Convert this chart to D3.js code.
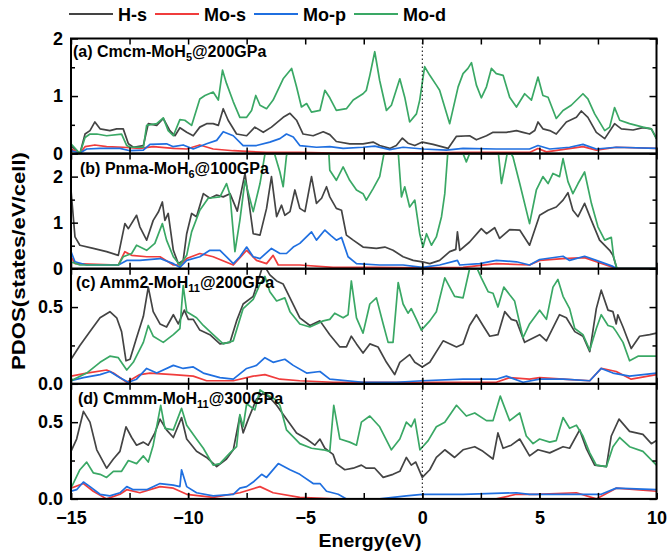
<!DOCTYPE html>
<html><head><meta charset="utf-8">
<script src="https://cdn.jsdelivr.net/npm/d3@7"></script>
<style>
body{margin:0;background:#fff;}
text{font-family:"Liberation Sans",Arial,sans-serif;font-weight:bold;}
</style></head>
<body><svg id="c" width="670" height="559"></svg>
<script>
// ---------- data (energy eV, PDOS states/eV/cell) ----------
const seriesNames = ["H-s","Mo-s","Mo-p","Mo-d"];
const energyTicks = [-15,-10,-5,0,5,10];
const panelNames = ["(a) Cmcm-MoH","(b) Pnma-MoH","(c) Amm2-MoH","(d) Cmmm-MoH"];
const panelSubs = ["5","6","11","11"];
const panelTails = ["@200GPa","@100GPa","@200GPa","@300GPa"];
const panelYMax = [2,2.5,0.75,0.75];
const panelMajor = [[0,1,2],[0,1,2],[0,0.5],[0,0.5]];
const panelMinor = [[0.5,1.5],[0.5,1.5],[0.25],[0.25]];
const panelTickLabels = [["0","1","2"],["0","1","2"],["0.0","0.5"],["0.0","0.5"]];

const aHs = [[-15,0.14],[-14.62,0],[-14.4,0.34],[-14.19,0.40],[-13.98,0.55],[-13.76,0.43],[-13.34,0.40],[-13.05,0.43],[-12.77,0.43],[-12.55,0.17],[-12.34,0.11],[-11.91,0.14],[-11.7,0.52],[-11.34,0.49],[-11.06,0.61],[-10.78,0.40],[-10.56,0.31],[-10.35,0.45],[-10.06,0.37],[-9.78,0.31],[-9.5,0.46],[-9.21,0.52],[-8.93,0.52],[-8.71,0.49],[-8.5,0.78],[-8.29,0.58],[-7.93,0.34],[-7.5,0.31],[-7.15,0.46],[-6.79,0.37],[-6.44,0.46],[-5.94,0.63],[-5.65,0.70],[-5.37,0.58],[-5.09,0.34],[-4.66,0.31],[-4.23,0.38],[-3.95,0.33],[-3.67,0.21],[-3.1,0.17],[-2.53,0.17],[-2.1,0.20],[-1.82,0.14],[-1.39,0.09],[-1.11,0.14],[-0.85,0.27],[-0.61,0.18],[-0.32,0.14],[0,0.20],[0.46,0.16],[1.1,0.09],[1.46,0.30],[2.02,0.31],[2.31,0.24],[2.74,0.31],[3.02,0.37],[3.59,0.37],[4.02,0.40],[4.3,0.37],[4.58,0.34],[4.8,0.40],[4.94,0.55],[5.15,0.43],[5.44,0.40],[5.72,0.34],[6.15,0.55],[6.58,0.63],[6.79,0.74],[7.07,0.63],[7.43,0.37],[7.79,0.26],[8.21,0.52],[8.5,0.43],[9.0,0.41],[9.42,0.45],[9.78,0.43],[10,0.26]];
const aMos = [[-15,0.08],[-14.62,0.01],[-14.4,0.12],[-13.98,0.15],[-13.48,0.12],[-12.77,0.11],[-12.06,0.09],[-11.49,0.12],[-10.63,0.09],[-10.06,0.08],[-9.5,0.15],[-8.93,0.08],[-8.07,0.05],[-6.65,0.02],[-5.23,0.02],[-3.81,0.01],[-2,0.01],[0,0.015],[2,0.02],[4.58,0.02],[4.94,0.09],[5.3,0.03],[6.86,0.12],[7.43,0.06],[8.28,0.11],[10,0.09]];
const aMop = [[-15,0.05],[-14.62,0.01],[-14.33,0.08],[-13.76,0.09],[-12.91,0.09],[-12.48,0.05],[-11.91,0.06],[-11.63,0.16],[-10.92,0.17],[-10.63,0.12],[-10.21,0.15],[-9.78,0.08],[-9.21,0.17],[-8.78,0.23],[-8.5,0.38],[-8.07,0.31],[-7.65,0.14],[-7.08,0.14],[-6.51,0.20],[-6.08,0.26],[-5.8,0.34],[-5.51,0.29],[-5.23,0.14],[-4.52,0.11],[-3.95,0.12],[-3.38,0.09],[-2.53,0.11],[-2.03,0.13],[-1.39,0.07],[-0.82,0.11],[0.03,0.08],[1.03,0.06],[1.74,0.09],[3.16,0.08],[4.58,0.08],[4.94,0.14],[5.44,0.08],[6.29,0.11],[6.86,0.16],[7.43,0.08],[8.28,0.11],[10,0.09]];
const aMod = [[-15,0.17],[-14.62,0],[-14.4,0.28],[-14.19,0.34],[-13.9,0.34],[-13.48,0.31],[-12.84,0.34],[-12.62,0.14],[-12.48,0.11],[-11.91,0.11],[-11.77,0.49],[-11.34,0.52],[-11.06,0.62],[-10.85,0.40],[-10.63,0.31],[-10.35,0.59],[-10.14,0.58],[-9.85,0.49],[-9.5,0.95],[-9.28,1.01],[-8.93,1.07],[-8.71,0.93],[-8.53,1.45],[-8.36,1.22],[-8.07,0.90],[-7.79,0.63],[-7.5,0.63],[-7.29,0.75],[-7.11,1.01],[-6.93,0.84],[-6.65,0.78],[-6.37,0.93],[-5.94,1.30],[-5.58,1.48],[-5.37,1.16],[-5.16,0.81],[-4.94,0.87],[-4.73,0.72],[-4.37,0.75],[-4.16,1.10],[-3.95,0.97],[-3.67,0.75],[-3.24,0.78],[-2.95,0.93],[-2.53,1.04],[-2.39,1.10],[-2.24,1.36],[-2.03,1.77],[-1.82,1.27],[-1.53,0.75],[-1.32,0.84],[-0.96,1.30],[-0.75,0.98],[-0.54,0.55],[-0.25,0.69],[-0.11,0.93],[0.1,1.51],[0.32,1.36],[0.6,1.19],[0.74,1.10],[1.17,0.52],[1.53,1.16],[1.74,1.39],[1.95,1.48],[2.1,1.58],[2.31,1.19],[2.52,0.97],[2.74,1.16],[2.95,1.48],[3.16,1.39],[3.45,1.36],[3.73,0.98],[4.02,0.81],[4.37,1.04],[4.66,0.93],[4.94,1.33],[5.15,1.01],[5.37,0.98],[5.72,0.61],[6.01,0.75],[6.36,0.84],[6.86,1.04],[7.07,0.95],[7.36,0.69],[7.79,0.40],[8.0,0.46],[8.21,0.80],[8.43,0.58],[8.85,0.52],[9.42,0.46],[9.78,0.43],[10,0.26]];

const bHs = [[-15,1.71],[-14.83,0.69],[-14.62,0.51],[-14.05,0.44],[-13.48,0.37],[-12.98,0.29],[-12.7,0.98],[-12.55,0.87],[-12.2,1.16],[-12.06,0.91],[-11.77,0.62],[-11.49,1.05],[-11.27,1.23],[-11.1,1.45],[-10.99,1.05],[-10.85,1.20],[-10.63,0.40],[-10.42,0.11],[-10.21,0.18],[-10.06,0.76],[-9.85,1.20],[-9.64,1.13],[-9.35,1.63],[-9.07,1.53],[-8.78,1.60],[-8.5,1.56],[-8.21,1.63],[-7.9,1.25],[-7.57,2.07],[-7.22,0.76],[-6.93,0.73],[-6.65,1.31],[-6.44,2.0],[-6.22,1.13],[-6.01,1.38],[-5.87,1.16],[-5.65,1.24],[-5.44,1.71],[-5.23,1.31],[-5.01,1.24],[-4.73,2.0],[-4.52,1.42],[-4.3,1.53],[-4.09,1.78],[-3.95,1.56],[-3.67,1.31],[-3.45,1.27],[-3.24,0.73],[-2.95,0.62],[-2.53,0.47],[-1.96,0.44],[-1.6,0.47],[-1.25,0.40],[-0.82,0.26],[-0.39,0.18],[0,0.15],[0.32,0.11],[0.74,0.18],[1.17,0.37],[1.43,0.42],[1.5,0.80],[1.6,0.40],[2.02,0.58],[2.52,0.87],[2.74,0.76],[3.09,0.89],[3.3,0.66],[3.73,0.85],[4.16,0.84],[4.58,0.51],[5.01,1.16],[5.37,1.27],[5.72,1.34],[6.01,1.49],[6.22,1.65],[6.43,1.27],[6.65,1.13],[6.93,1.42],[7.22,1.05],[7.57,0.62],[8.0,0.40],[8.14,0.29],[8.31,0.0],[10,0]];
const bMos = [[-15,0.26],[-14.83,0.11],[-12.98,0.08],[-12.7,0.37],[-12.41,0.29],[-11.77,0.26],[-11.2,0.26],[-10.63,0.08],[-10.35,0.08],[-10.06,0.22],[-9.5,0.33],[-8.93,0.26],[-8.07,0.08],[-7.5,0.40],[-7.08,0.18],[-6.65,0.11],[-6.37,0.29],[-6.15,0.08],[-5.23,0.08],[-3.81,0.03],[-2,0.03],[0,0.02],[1.74,0.03],[3.16,0.11],[4.58,0.08],[5.01,0.18],[6.01,0.22],[6.93,0.24],[7.43,0.15],[8.31,0],[10,0]];
const bMop = [[-15,0.37],[-14.83,0.15],[-14.33,0.08],[-12.98,0.08],[-12.62,0.18],[-12.06,0.18],[-11.2,0.22],[-10.63,0.11],[-10.35,0.03],[-10.06,0.18],[-9.5,0.26],[-9.07,0.40],[-8.64,0.40],[-8.07,0.11],[-7.79,0.26],[-7.5,0.47],[-7.22,0.26],[-6.93,0.22],[-6.44,0.44],[-6.08,0.33],[-5.8,0.33],[-5.51,0.47],[-5.23,0.55],[-4.73,0.80],[-4.52,0.62],[-4.16,0.84],[-3.9,0.72],[-3.67,0.62],[-3.45,0.68],[-3.17,0.26],[-2.81,0.11],[-1.82,0.08],[-0.82,0.08],[0,0.03],[0.74,0.08],[1.5,0.18],[1.6,0.08],[2.45,0.11],[3.16,0.18],[4.02,0.15],[4.58,0.08],[5.01,0.20],[6.01,0.27],[6.29,0.18],[6.93,0.27],[7.43,0.18],[8.14,0.05],[8.31,0],[10,0]];
const bMod = [[-15,0.15],[-14.62,0.08],[-13.76,0.08],[-12.98,0.08],[-12.77,0.26],[-12.41,0.33],[-12.2,0.51],[-11.77,0.40],[-11.42,0.55],[-11.1,0.98],[-10.92,0.62],[-10.63,0.26],[-10.35,0.08],[-10.06,0.29],[-9.85,0.80],[-9.5,1.27],[-9.14,1.53],[-8.64,1.56],[-8.36,1.85],[-8.21,1.60],[-8.0,0.37],[-7.79,1.05],[-7.57,1.92],[-7.22,1.24],[-6.93,1.85],[-6.65,2.7],[-6.37,2.6],[-6.08,2.1],[-5.94,1.78],[-5.8,2.45],[-5.58,2.8],[-5.0,3.0],[-4.3,2.8],[-4.0,2.6],[-3.95,2.14],[-3.67,1.92],[-3.38,2.21],[-3.1,1.92],[-2.81,1.71],[-2.53,1.63],[-2.39,1.49],[-2.1,1.74],[-1.82,2.0],[-1.6,2.6],[-1.2,2.8],[-1.03,2.55],[-0.89,1.56],[-0.75,1.78],[-0.54,1.34],[-0.32,1.49],[-0.11,0.76],[0.03,0.47],[0.18,0.76],[0.39,0.51],[0.6,0.69],[0.82,1.13],[0.96,1.63],[1.1,2.6],[1.5,2.8],[1.74,2.5],[1.88,2.32],[2.1,2.6],[2.8,2.9],[3.23,2.6],[3.38,1.85],[3.52,2.21],[3.66,2.6],[3.87,2.43],[4.16,1.85],[4.58,0.98],[4.87,1.71],[5.15,2.0],[5.37,1.85],[5.58,2.07],[5.86,2.0],[6.01,2.39],[6.22,1.89],[6.43,1.63],[6.65,1.85],[6.93,2.1],[7.22,1.42],[7.5,0.91],[7.79,0.62],[8.07,0.68],[8.17,0.26],[8.31,0],[10,0]];

const cHs = [[-15,0.16],[-14.62,0.25],[-14.19,0.34],[-13.76,0.43],[-13.34,0.47],[-13.05,0.43],[-12.84,0.34],[-12.65,0.15],[-12.48,0.16],[-12.2,0.30],[-11.91,0.44],[-11.7,0.63],[-11.49,0.47],[-11.2,0.39],[-10.92,0.37],[-10.63,0.45],[-10.42,0.39],[-10.16,0.48],[-9.99,0.42],[-9.78,0.42],[-9.5,0.35],[-9.07,0.32],[-8.64,0.26],[-8.21,0.27],[-7.93,0.41],[-7.65,0.52],[-7.22,0.57],[-6.93,0.71],[-6.79,0.78],[-6.51,0.71],[-6.22,0.67],[-5.94,0.65],[-5.65,0.56],[-5.23,0.43],[-4.8,0.38],[-4.37,0.41],[-3.95,0.32],[-3.52,0.24],[-3.24,0.24],[-3.03,0.31],[-2.81,0.26],[-2.53,0.20],[-2.24,0.26],[-1.89,0.24],[-1.53,0.14],[-1.18,0.06],[-0.96,0.14],[-0.54,0.19],[-0.32,0.14],[0,0.11],[0.32,0.14],[0.89,0.28],[1.46,0.24],[1.74,0.26],[2.02,0.38],[2.31,0.45],[2.59,0.38],[2.88,0.31],[3.23,0.32],[3.52,0.47],[3.8,0.42],[4.02,0.41],[4.37,0.27],[5.01,0.32],[5.3,0.28],[5.86,0.45],[6.15,0.43],[6.51,0.34],[6.86,0.31],[7.15,0.21],[7.43,0.49],[7.64,0.61],[7.93,0.48],[8.14,0.47],[8.28,0.39],[8.35,0.45],[8.57,0.37],[8.92,0.23],[9.28,0.31],[9.71,0.32],[10,0.33]];
const cMos = [[-15,0.05],[-14.33,0.07],[-13.48,0.09],[-13.19,0.07],[-12.62,0.01],[-12.06,0.06],[-11.63,0.07],[-10.63,0.06],[-9.78,0.05],[-9.21,0.02],[-8.07,0.02],[-7.22,0.05],[-6.72,0.06],[-6.08,0.03],[-5.23,0.02],[-3.81,0.01],[3.16,0.01],[3.73,0.04],[4.58,0.03],[5.01,0.04],[6.01,0.03],[7.15,0.02],[7.64,0.10],[8.28,0.08],[8.92,0.03],[10,0.06]];
const cMop = [[-15,0.02],[-14.47,0.04],[-13.76,0.06],[-13.34,0.08],[-12.91,0.04],[-12.55,0.01],[-12.2,0.03],[-11.77,0.10],[-11.34,0.07],[-10.63,0.12],[-10.21,0.10],[-9.78,0.11],[-9.35,0.07],[-8.64,0.04],[-8.07,0.03],[-7.5,0.10],[-7.08,0.12],[-6.72,0.17],[-6.37,0.14],[-5.87,0.16],[-5.51,0.12],[-4.94,0.07],[-4.37,0.08],[-3.95,0.03],[-2.53,0.01],[-1.11,0.01],[0,0.02],[1.74,0.03],[3.16,0.03],[3.59,0.05],[4.3,0.01],[5.01,0.03],[6.01,0.03],[7.15,0.02],[7.64,0.10],[8.14,0.07],[8.85,0.05],[10,0.07]];
const cMod = [[-15,0.02],[-14.33,0.07],[-13.76,0.14],[-13.34,0.18],[-12.98,0.17],[-12.62,0.09],[-12.34,0.14],[-11.91,0.27],[-11.7,0.38],[-11.49,0.31],[-11.06,0.27],[-10.63,0.32],[-10.35,0.36],[-10.21,0.64],[-10.06,0.47],[-9.85,0.45],[-9.64,0.43],[-9.35,0.38],[-8.93,0.32],[-8.5,0.26],[-8.07,0.28],[-7.65,0.49],[-7.22,0.55],[-6.93,0.65],[-6.72,0.70],[-6.51,0.60],[-6.22,0.54],[-5.87,0.56],[-5.65,0.47],[-5.23,0.39],[-4.8,0.37],[-4.23,0.41],[-3.95,0.42],[-3.74,0.46],[-3.38,0.43],[-3.17,0.45],[-3.03,0.67],[-2.81,0.43],[-2.53,0.33],[-2.24,0.52],[-1.96,0.56],[-1.67,0.39],[-1.46,0.27],[-1.25,0.27],[-1.03,0.66],[-0.82,0.52],[-0.61,0.46],[-0.47,0.49],[-0.25,0.42],[-0.04,0.35],[0.32,0.41],[0.6,0.47],[0.96,0.69],[1.38,0.57],[1.74,0.56],[2.02,0.75],[2.2,0.80],[2.52,0.69],[2.81,0.60],[3.02,0.59],[3.23,0.50],[3.48,0.63],[3.73,0.58],[3.94,0.54],[4.3,0.30],[4.58,0.39],[5.01,0.48],[5.3,0.42],[5.58,0.63],[5.79,0.68],[6.01,0.57],[6.29,0.49],[6.51,0.36],[6.86,0.32],[7.15,0.22],[7.43,0.36],[7.64,0.45],[7.93,0.38],[8.14,0.37],[8.28,0.34],[8.57,0.27],[8.85,0.15],[9.21,0.18],[10,0.18]];

const dHs = [[-15,0.31],[-14.76,0.39],[-14.47,0.57],[-14.19,0.50],[-13.9,0.32],[-13.48,0.20],[-13.19,0.26],[-12.91,0.31],[-12.65,0.47],[-12.41,0.40],[-12.2,0.35],[-11.91,0.37],[-11.7,0.35],[-11.42,0.43],[-11.2,0.52],[-10.92,0.45],[-10.63,0.40],[-10.28,0.53],[-10.06,0.39],[-9.64,0.31],[-9.21,0.27],[-8.78,0.21],[-8.36,0.26],[-8.07,0.32],[-7.79,0.54],[-7.65,0.43],[-7.43,0.52],[-7.08,0.65],[-6.79,0.69],[-6.51,0.66],[-6.22,0.61],[-5.8,0.52],[-5.37,0.43],[-4.94,0.39],[-4.59,0.35],[-4.37,0.39],[-4.16,0.33],[-3.81,0.29],[-3.67,0.23],[-3.31,0.19],[-2.95,0.20],[-2.6,0.22],[-2.39,0.20],[-2.03,0.20],[-1.67,0.14],[-1.25,0.16],[-0.96,0.18],[-0.68,0.27],[-0.47,0.22],[-0.28,0.24],[0,0.14],[0.32,0.19],[0.6,0.27],[0.96,0.32],[1.38,0.27],[1.74,0.32],[2.24,0.34],[2.59,0.31],[3.02,0.26],[3.23,0.43],[3.45,0.33],[3.8,0.35],[4.16,0.39],[4.58,0.28],[4.94,0.32],[5.44,0.30],[6.01,0.34],[6.29,0.33],[6.72,0.45],[7.0,0.33],[7.36,0.22],[7.86,0.21],[8.07,0.41],[8.4,0.52],[8.85,0.44],[9.42,0.42],[9.78,0.36],[10,0.38]];
const dMos = [[-15,0.07],[-14.47,0.10],[-14.05,0.05],[-13.48,0.00],[-12.91,0.03],[-12.62,0.06],[-12.06,0.04],[-11.2,0.08],[-10.63,0.07],[-10.06,0.03],[-8.93,0.01],[-7.79,0.04],[-6.93,0.08],[-6.37,0.04],[-5.23,0.01],[-3.81,0.0],[3.16,0.0],[4.02,0.03],[4.87,0.03],[6.58,0.04],[7.43,0.0],[8.28,0.07],[10,0.05]];
const dMop = [[-15,0.05],[-14.76,0.06],[-14.47,0.11],[-14.19,0.08],[-13.76,0.03],[-13.34,0.02],[-12.91,0.04],[-12.62,0.08],[-12.34,0.06],[-11.77,0.06],[-11.2,0.10],[-10.63,0.09],[-10.35,0.08],[-10.28,0.19],[-10.06,0.08],[-9.64,0.04],[-8.93,0.02],[-8.07,0.03],[-7.79,0.07],[-7.5,0.08],[-7.22,0.11],[-6.86,0.16],[-6.65,0.14],[-6.15,0.23],[-5.65,0.19],[-5.23,0.16],[-4.66,0.10],[-4.37,0.10],[-4.09,0.05],[-3.59,0.03],[-3.24,0.00],[-1.82,0.00],[-0.68,0.02],[0,0.03],[1.74,0.03],[4.02,0.04],[4.58,0.03],[6.01,0.03],[7.64,0.03],[8.28,0.07],[10,0.06]];
const dMod = [[-15,0.07],[-14.62,0.19],[-14.33,0.24],[-14.05,0.17],[-13.76,0.16],[-13.48,0.14],[-13.19,0.18],[-12.84,0.18],[-12.55,0.25],[-12.2,0.23],[-11.91,0.28],[-11.7,0.24],[-11.49,0.35],[-11.17,0.61],[-10.99,0.46],[-10.63,0.45],[-10.28,0.59],[-10.06,0.48],[-9.64,0.39],[-9.35,0.33],[-8.93,0.22],[-8.64,0.23],[-8.21,0.30],[-7.93,0.34],[-7.79,0.55],[-7.65,0.47],[-7.5,0.62],[-7.15,0.58],[-6.93,0.71],[-6.65,0.68],[-6.29,0.65],[-6.08,0.61],[-5.8,0.45],[-5.23,0.36],[-4.73,0.33],[-4.23,0.32],[-3.95,0.31],[-3.78,0.61],[-3.52,0.39],[-3.1,0.37],[-2.81,0.35],[-2.6,0.50],[-2.24,0.54],[-1.82,0.47],[-1.32,0.32],[-0.96,0.39],[-0.68,0.50],[-0.47,0.47],[-0.32,0.52],[-0.1,0.32],[0.25,0.38],[0.6,0.47],[0.96,0.50],[1.46,0.61],[1.88,0.54],[2.24,0.56],[2.74,0.51],[3.02,0.51],[3.33,0.67],[3.73,0.51],[4.16,0.56],[4.44,0.41],[4.73,0.36],[5.01,0.39],[5.44,0.37],[5.72,0.38],[6.01,0.53],[6.29,0.46],[6.58,0.48],[6.86,0.41],[7.15,0.30],[7.43,0.22],[7.86,0.21],[8.14,0.34],[8.43,0.40],[8.85,0.34],[9.42,0.31],[10,0.22]];

const panelData = [[aHs,aMos,aMop,aMod],[bHs,bMos,bMop,bMod],[cHs,cMos,cMop,cMod],[dHs,dMos,dMop,dMod]];

// ---------- styles / layout ----------
const colors = ["#444444","#f03c3c","#1f6fe0","#3aa865"];
const L = 71, R = 656.5, T = 38.5, PH = 115.1;
const svg = d3.select("#c");
const x = d3.scaleLinear().domain([-15,10]).range([L,R]);
const line = d3.line();

const defs = svg.append("defs");
panelData.forEach((series,i)=>{
  const top = T + i*PH, bot = top + PH;
  const y = d3.scaleLinear().domain([0,panelYMax[i]]).range([bot,top]);
  defs.append("clipPath").attr("id","clip"+i).append("rect")
    .attr("x",L).attr("y",top).attr("width",R-L).attr("height",PH);
  const g = svg.append("g").attr("clip-path","url(#clip"+i+")");
  series.forEach((pts,k)=>{
    g.append("path")
      .attr("d", line.x(d=>x(d[0])).y(d=>y(d[1]))(pts))
      .attr("fill","none").attr("stroke",colors[k]).attr("stroke-width",1.7)
      .attr("stroke-linejoin","round");
  });
  // axes
  const ax = svg.append("g").attr("class","axes");
  const left = d3.axisLeft(y).tickValues(panelMajor[i]).tickSize(-7).tickPadding(8)
      .tickFormat((d,j)=>panelTickLabels[i][j]);
  ax.append("g").attr("transform",`translate(${L},0)`).call(left);
  ax.append("g").attr("transform",`translate(${L},0)`).call(d3.axisLeft(y).tickValues(panelMinor[i]).tickSize(-4).tickFormat(""));
  ax.append("g").attr("transform",`translate(${R},0)`).call(d3.axisRight(y).tickValues(panelMajor[i]).tickSize(-7).tickFormat(""));
  ax.append("g").attr("transform",`translate(${R},0)`).call(d3.axisRight(y).tickValues(panelMinor[i]).tickSize(-4).tickFormat(""));
  const xt = d3.range(-15,10.01,2.5);
  ax.append("g").attr("transform",`translate(0,${top})`).call(d3.axisTop(x).tickValues(xt).tickSize(-6).tickFormat(""));
  ax.append("g").attr("transform",`translate(0,${bot})`).call(d3.axisBottom(x).tickValues(xt).tickSize(-6).tickFormat(""));
  if(i===3){
    ax.append("g").attr("class","xlab").attr("transform",`translate(0,${bot})`)
      .call(d3.axisBottom(x).tickValues(energyTicks).tickSize(-6).tickPadding(12).tickFormat(d3.format("d")));
  }
  // frame
  svg.append("rect").attr("x",L).attr("y",top).attr("width",R-L).attr("height",PH)
    .attr("fill","none").attr("stroke","#000").attr("stroke-width",2);
  // panel label
  const t = svg.append("text").attr("x",[73,80,76,78][i]).attr("y",[57,174,288,404][i])
    .attr("font-size",16).attr("fill","#000");
  t.append("tspan").text(panelNames[i]);
  t.append("tspan").attr("font-size",11).attr("dy",4).text(panelSubs[i]);
  t.append("tspan").attr("dy",-4).text(panelTails[i]);
});
svg.selectAll(".domain").remove();
svg.selectAll(".tick line").attr("stroke","#000").attr("stroke-width",1.5);
svg.selectAll(".tick text").attr("font-size",18).attr("fill","#000")
   .style("font-family","'Liberation Sans',Arial,sans-serif").style("font-weight","bold");

// Fermi level dotted line
svg.append("line").attr("x1",x(0)).attr("x2",x(0)).attr("y1",T).attr("y2",T+4*PH)
  .attr("stroke","#000").attr("stroke-width",1).attr("stroke-dasharray","1.5,2.5");

// axis titles
svg.append("text").attr("x",370).attr("y",547).attr("text-anchor","middle")
  .attr("font-size",19).attr("textLength",103).attr("lengthAdjust","spacingAndGlyphs").text("Energy(eV)");
svg.append("text").attr("transform","translate(25,261) rotate(-90)").attr("text-anchor","middle")
  .attr("font-size",19).attr("textLength",218).attr("lengthAdjust","spacingAndGlyphs").text("PDOS(states/eV/cell)");

// legend
const legX = [69,155,254,354];
seriesNames.forEach((n,k)=>{
  svg.append("line").attr("x1",legX[k]).attr("x2",legX[k]+44).attr("y1",14).attr("y2",14)
    .attr("stroke",colors[k]).attr("stroke-width",2);
  svg.append("text").attr("x",legX[k]+49).attr("y",21).attr("font-size",18).text(n);
});
</script></body></html>
